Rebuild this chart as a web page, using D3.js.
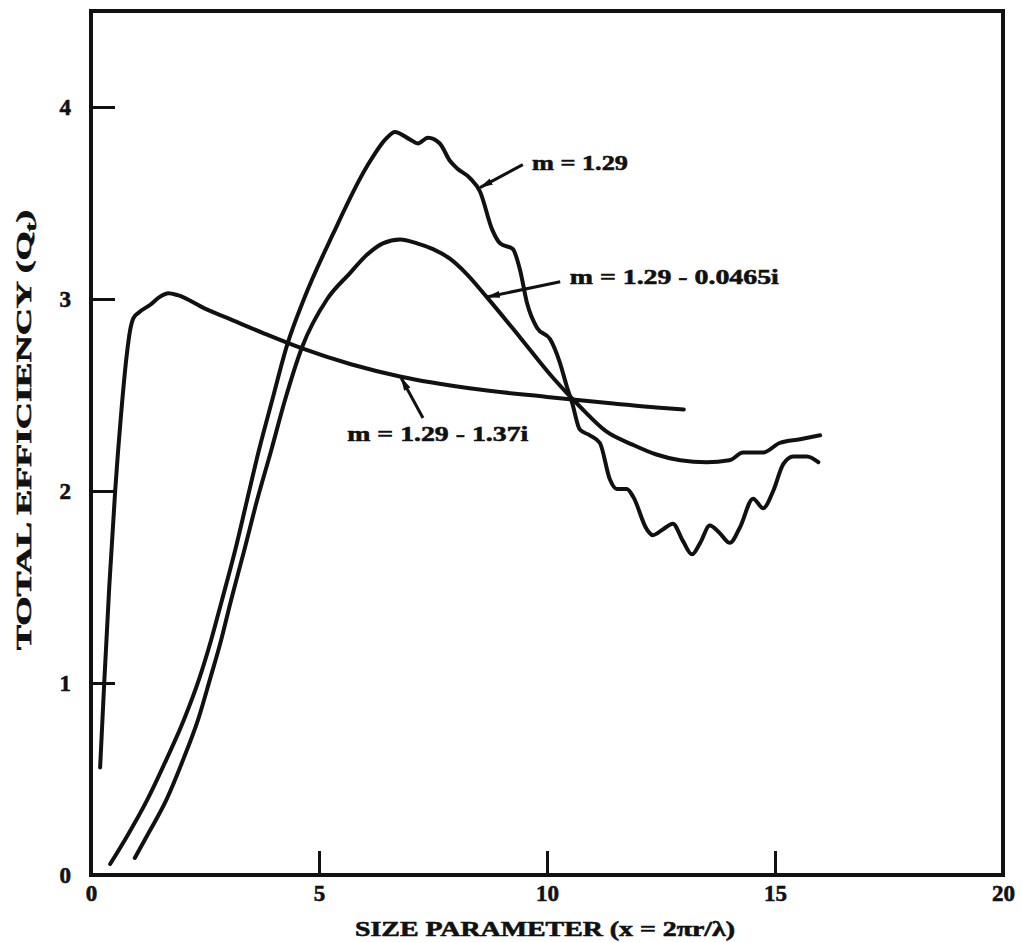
<!DOCTYPE html>
<html>
<head>
<meta charset="utf-8">
<script src="https://cdn.jsdelivr.net/npm/d3@7"></script>
<style>
  body { margin: 0; background: #fff; }
  svg text { font-family: 'Liberation Serif', 'DejaVu Serif', serif; font-weight: bold; fill: #111; stroke: #111; stroke-width: 0.6px; }
</style>
</head>
<body>
<div id="chart"></div>
<script>
// m = 1.29 - 1.37i (strongly absorbing)
const xAbs = [0.2, 0.29, 0.4, 0.53, 0.66, 0.78, 0.86, 0.93, 1.05, 1.3, 1.5, 1.7, 1.9, 2.5, 3.0, 3.8, 4.6, 5.7, 6.8, 8.3, 10.0, 11.5, 12.4, 13.0]
const yAbs = [0.56, 1.0, 1.5, 2.0, 2.4, 2.7, 2.84, 2.9, 2.93, 2.97, 3.01, 3.03, 3.02, 2.95, 2.9, 2.82, 2.745, 2.66, 2.595, 2.535, 2.49, 2.455, 2.435, 2.425]

// m = 1.29 (non absorbing)
const xReal = [0.42, 0.81, 1.23, 1.65, 2.04, 2.37, 2.63, 2.87, 3.16, 3.42, 3.68, 3.97, 4.3, 4.67, 5.31, 6.05, 6.49, 6.66, 7.0, 7.17, 7.39, 7.65, 7.87, 8.03, 8.31, 8.53, 8.8, 8.97, 9.25, 9.41, 9.56, 9.78, 10.07, 10.28, 10.44, 10.55, 10.72, 10.94, 11.16, 11.38, 11.53, 11.75, 11.89, 12.19, 12.32, 12.54, 12.76, 12.98, 13.18, 13.36, 13.57, 13.79, 14.01, 14.23, 14.52, 14.74, 14.96, 15.18, 15.4, 15.7, 15.95]
const yReal = [0.057, 0.21, 0.39, 0.6, 0.81, 1.02, 1.22, 1.43, 1.69, 1.95, 2.21, 2.47, 2.76, 3.0, 3.34, 3.69, 3.84, 3.87, 3.83, 3.81, 3.84, 3.81, 3.72, 3.68, 3.63, 3.56, 3.36, 3.29, 3.26, 3.15, 2.98, 2.85, 2.79, 2.67, 2.54, 2.46, 2.32, 2.29, 2.25, 2.06, 2.01, 2.01, 1.97, 1.80, 1.77, 1.80, 1.83, 1.74, 1.67, 1.73, 1.82, 1.78, 1.73, 1.81, 1.96, 1.91, 2.0, 2.14, 2.18, 2.18, 2.15]

// m = 1.29 - 0.0465i (weakly absorbing)
const xWeak = [0.96, 1.29, 1.65, 2.02, 2.35, 2.61, 2.85, 3.07, 3.36, 3.64, 3.95, 4.25, 4.63, 5.18, 5.68, 6.05, 6.4, 6.78, 7.15, 7.5, 7.87, 8.24, 8.68, 9.41, 10.13, 10.72, 11.3, 11.89, 12.4, 12.92, 13.5, 14.0, 14.3, 14.74, 15.1, 15.55, 15.99]
const yWeak = [0.089, 0.23, 0.39, 0.6, 0.81, 1.02, 1.22, 1.43, 1.69, 1.95, 2.21, 2.47, 2.75, 3.0, 3.135, 3.23, 3.29, 3.31, 3.29, 3.26, 3.21, 3.13, 3.01, 2.80, 2.59, 2.44, 2.31, 2.24, 2.19, 2.16, 2.15, 2.16, 2.2, 2.2, 2.25, 2.27, 2.29]

const xTicks = [0, 5, 10, 15, 20]
const yTicks = [0, 1, 2, 3, 4]

// curve labels: text, label anchor (data units), arrow tail and tip (data units)
const labelText = ['m = 1.29', 'm = 1.29 - 0.0465i', 'm = 1.29 - 1.37i']
const labelPos = [[9.67, 3.67], [10.5, 3.08], [5.62, 2.26]]
const arrowFrom = [[9.47, 3.70], [10.29, 3.09], [7.28, 2.38]]
const arrowTo = [[8.53, 3.58], [8.68, 3.01], [6.8, 2.59]]

const width = 1022
const height = 942
const margin = { top: 11, right: 19, bottom: 67, left: 91 }
const innerW = width - margin.left - margin.right
const innerH = height - margin.top - margin.bottom

const svg = d3.select('#chart')
  .append('svg')
  .attr('width', width)
  .attr('height', height)

const g = svg.append('g')
  .attr('transform', `translate(${margin.left},${margin.top})`)

const x = d3.scaleLinear().domain([0, 20]).range([0, innerW])
const y = d3.scaleLinear().domain([0, 4.5]).range([innerH, 0])

// frame
g.append('rect')
  .attr('width', innerW)
  .attr('height', innerH)
  .attr('fill', 'none')
  .attr('stroke', '#111')
  .attr('stroke-width', 4)

// axes, ticks point inward
const xAxis = g.append('g')
  .attr('transform', `translate(0,${innerH})`)
  .call(d3.axisBottom(x).tickValues(xTicks).tickSize(-24).tickPadding(10).tickFormat(d3.format('d')))
const yAxis = g.append('g')
  .call(d3.axisLeft(y).tickValues(yTicks).tickSize(-24).tickPadding(20).tickFormat(d3.format('d')))

;[xAxis, yAxis].forEach(a => {
  a.select('.domain').remove()
  a.selectAll('line').attr('stroke', '#111').attr('stroke-width', 3)
  a.selectAll('text').attr('font-size', 23).attr('font-family', null).attr('fill', '#111')
})

// axis titles
svg.append('text')
  .attr('x', 545)
  .attr('y', 936)
  .attr('text-anchor', 'middle')
  .attr('font-size', 21)
  .attr('textLength', 380)
  .attr('lengthAdjust', 'spacingAndGlyphs')
  .text('SIZE PARAMETER (x = 2\u03c0r/\u03bb)')

const yTitle = svg.append('text')
  .attr('transform', 'translate(31,430) rotate(-90)')
  .attr('text-anchor', 'middle')
  .attr('font-size', 20)
  .attr('textLength', 440)
  .attr('lengthAdjust', 'spacingAndGlyphs')
yTitle.append('tspan').text('TOTAL EFFICIENCY (Q')
yTitle.append('tspan').attr('font-size', 14).attr('dy', 5).text('t')
yTitle.append('tspan').attr('dy', -5).text(')')

// curves
const line = d3.line()
  .x(d => x(d[0]))
  .y(d => y(d[1]))
  .curve(d3.curveMonotoneX)

const series = [
  d3.zip(xAbs, yAbs),
  d3.zip(xReal, yReal),
  d3.zip(xWeak, yWeak)
]

g.selectAll('.curve')
  .data(series)
  .enter()
  .append('path')
  .attr('class', 'curve')
  .attr('d', line)
  .attr('fill', 'none')
  .attr('stroke', '#111')
  .attr('stroke-width', 4)
  .attr('stroke-linecap', 'round')
  .attr('stroke-linejoin', 'round')

// arrowhead
svg.append('defs')
  .append('marker')
  .attr('id', 'head')
  .attr('viewBox', '0 -4 14 8')
  .attr('refX', 13)
  .attr('refY', 0)
  .attr('markerWidth', 14)
  .attr('markerHeight', 8)
  .attr('markerUnits', 'userSpaceOnUse')
  .attr('orient', 'auto')
  .append('path')
  .attr('d', 'M0,-3.5L14,0L0,3.5Z')
  .attr('fill', '#111')

g.selectAll('.arrow')
  .data(arrowFrom)
  .enter()
  .append('line')
  .attr('class', 'arrow')
  .attr('x1', d => x(d[0]))
  .attr('y1', d => y(d[1]))
  .attr('x2', (d, i) => x(arrowTo[i][0]))
  .attr('y2', (d, i) => y(arrowTo[i][1]))
  .attr('stroke', '#111')
  .attr('stroke-width', 3)
  .attr('marker-end', 'url(#head)')

const labelWidths = [96, 209, 181]
g.selectAll('.curve-label')
  .data(labelText)
  .enter()
  .append('text')
  .attr('class', 'curve-label')
  .attr('x', (d, i) => x(labelPos[i][0]))
  .attr('y', (d, i) => y(labelPos[i][1]))
  .attr('font-size', 22)
  .attr('textLength', (d, i) => labelWidths[i])
  .attr('lengthAdjust', 'spacingAndGlyphs')
  .text(d => d)
</script>
</body>
</html>
